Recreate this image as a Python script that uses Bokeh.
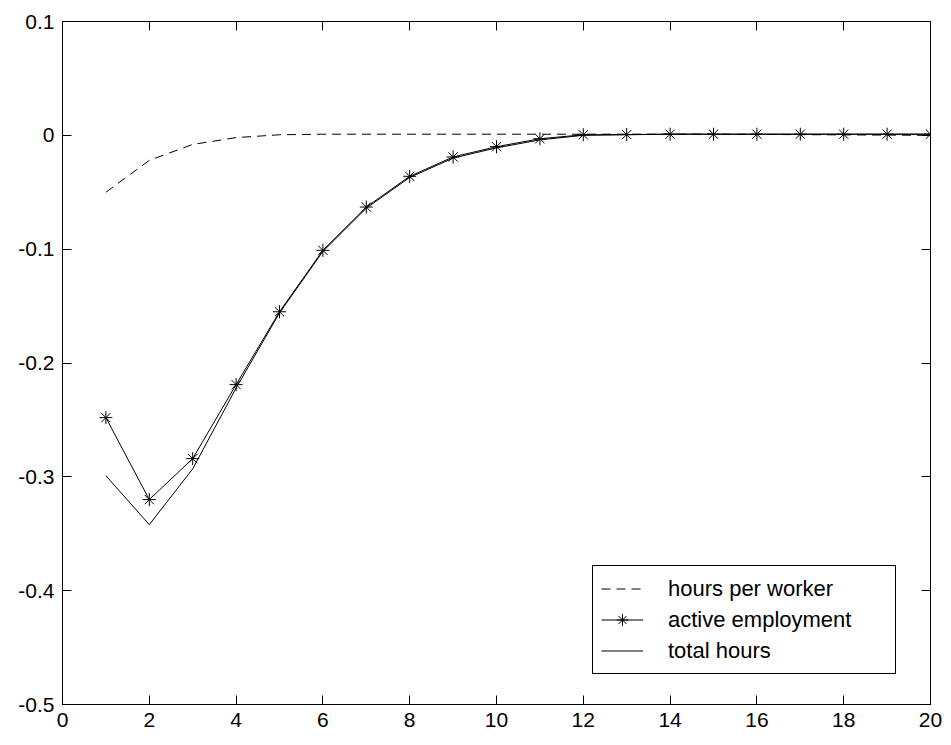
from bokeh.plotting import figure
from bokeh.models import LinearAxis, FixedTicker, CustomJSTickFormatter, Range1d
from bokeh.embed import file_html
from bokeh.resources import INLINE

periods = list(range(1, 21))
hours_per_worker = [-0.050, -0.022, -0.008, -0.002, 0.0005, 0.001, 0.001, 0.001, 0.001, 0.001,
                    0.001, 0.001, 0.001, 0.001, 0.001, 0.0008, 0.0006, 0.0004, 0.0002, 0.0]
active_employment = [-0.248, -0.320, -0.284, -0.219, -0.155, -0.101, -0.063, -0.036, -0.019, -0.010,
                     -0.003, 0.0005, 0.0007, 0.001, 0.001, 0.001, 0.001, 0.001, 0.001, 0.001]
total_hours = [-0.299, -0.342, -0.293, -0.222, -0.156, -0.102, -0.064, -0.037, -0.020, -0.011,
               -0.004, 0.0, 0.0005, 0.001, 0.001, 0.001, 0.001, 0.001, 0.001, 0.001]
x_ticks = [0, 2, 4, 6, 8, 10, 12, 14, 16, 18, 20]
y_ticks = [-0.5, -0.4, -0.3, -0.2, -0.1, 0, 0.1]

FONT = "Liberation Sans"

p = figure(width=951, height=745, output_backend="svg", toolbar_location=None,
           x_range=Range1d(0, 20), y_range=Range1d(-0.5, 0.1),
           x_axis_location=None, y_axis_location=None)
p.min_border_left = 62
p.min_border_right = 21
p.min_border_top = 21
p.min_border_bottom = 41
p.grid.visible = False
p.outline_line_color = "black"
p.outline_line_width = 1
p.background_fill_color = "white"
p.border_fill_color = "white"

yfmt = CustomJSTickFormatter(code="var s = tick.toFixed(1); if (s === '0.0' || s === '-0.0') { return '0'; } return s;")
xfmt = CustomJSTickFormatter(code="return tick.toFixed(0);")
blank = CustomJSTickFormatter(code="return '';")

def style(ax, labels=True):
    ax.axis_line_color = "black"
    ax.axis_line_width = 1
    ax.major_tick_in = 9
    ax.major_tick_out = 0
    ax.minor_tick_line_color = None
    ax.major_tick_line_color = "black"
    ax.major_label_text_font = FONT
    ax.major_label_text_font_size = "21px" if labels else "0px"
    ax.major_label_text_color = "black"
    ax.major_label_standoff = 8 if labels else 0

left = LinearAxis(ticker=FixedTicker(ticks=y_ticks), formatter=yfmt)
style(left)
p.add_layout(left, "left")
bottom = LinearAxis(ticker=FixedTicker(ticks=x_ticks), formatter=xfmt)
style(bottom)
p.add_layout(bottom, "below")
right = LinearAxis(ticker=FixedTicker(ticks=y_ticks), formatter=blank)
style(right, False)
p.add_layout(right, "right")
top = LinearAxis(ticker=FixedTicker(ticks=x_ticks), formatter=blank)
style(top, False)
p.add_layout(top, "above")

p.line(periods, hours_per_worker, line_color="black", line_width=1, line_dash="9 6",
       legend_label="hours per worker")
p.line(periods, active_employment, line_color="black", line_width=1,
       legend_label="active employment")
p.scatter(periods, active_employment, marker="asterisk", size=13, line_color="black",
          line_width=1, legend_label="active employment")
p.line(periods, total_hours, line_color="black", line_width=1, legend_label="total hours")

lg = p.legend[0]
lg.location = (530, 30)
lg.border_line_color = "black"
lg.border_line_width = 1
lg.border_line_alpha = 1
lg.background_fill_color = "white"
lg.background_fill_alpha = 1
lg.label_text_font = FONT
lg.label_text_font_size = "22px"
lg.label_text_color = "black"
lg.padding = 8
lg.margin = 0
lg.spacing = 2
lg.label_height = 29
lg.glyph_height = 29
lg.glyph_width = 42
lg.label_standoff = 25
lg.label_width = 219

open("out.html", "w").write(file_html(p, INLINE))
